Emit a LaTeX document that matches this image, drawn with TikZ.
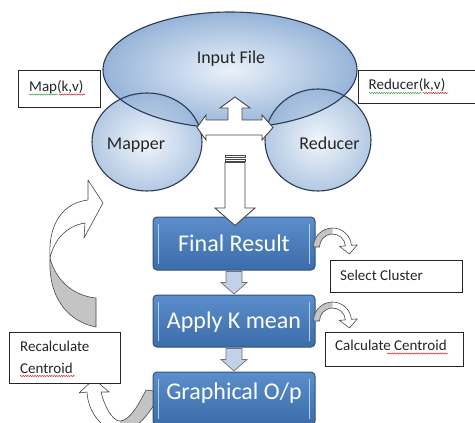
\documentclass[tikz,border=0pt]{standalone}
\usepackage{fontspec}
\setmainfont{Carlito}
\usetikzlibrary{shapes.geometric,calc,decorations.pathmorphing}
\definecolor{bubIn}{RGB}{234,241,250}
\definecolor{bubOut}{RGB}{150,180,216}
\definecolor{bubLine}{RGB}{42,58,84}
\definecolor{boxTop}{RGB}{92,142,204}
\definecolor{boxBot}{RGB}{60,108,170}
\definecolor{boxLine}{RGB}{48,82,128}
\definecolor{boxEdge}{RGB}{175,208,242}
\definecolor{arrLine}{RGB}{70,70,70}
\definecolor{arrGray}{RGB}{196,196,196}
\definecolor{smallArr}{RGB}{192,209,232}
\definecolor{wavRed}{RGB}{220,40,40}
\definecolor{wavGreen}{RGB}{60,170,60}
\begin{document}
\begin{tikzpicture}[x=1pt,y=-1pt,
  bubble/.style={ellipse, inner sep=0pt, inner color=bubIn, outer color=bubOut},
  bubtext/.style={font=\fontsize{18}{18}\selectfont, text=black!85, inner sep=0pt, text height=11.6pt, text depth=0pt},
  flowbox/.style={rectangle, rounded corners=4pt, minimum width=162pt, minimum height=53pt, top color=boxTop, bottom color=boxBot, draw=boxLine, line width=1pt, text=white, font=\fontsize{24}{24}\selectfont, text height=15.5pt, text depth=0pt, inner sep=0pt},
  notebox/.style={draw=black!85, line width=0.8pt, fill=white, inner sep=0pt, anchor=north west},
  notetext/.style={font=\fontsize{15}{15}\selectfont, text=black!85, inner sep=0pt, anchor=base west},
  blockarrow/.style={fill=white, draw=arrLine, line width=0.9pt, line join=miter},
  smallarrow/.style={fill=smallArr, draw=black!55, line width=0.7pt, line join=miter},
  curlline/.style={draw=arrLine, line width=0.6pt, line join=round},
  wavy/.style={decorate, decoration={snake, amplitude=0.6pt, segment length=2.4pt}, line width=0.5pt},
  curl/.pic={
    \fill[white] (180:19) arc[start angle=180,end angle=355,radius=19] -- (355:25) -- (17,7) -- (355:7) -- (355:13) arc[start angle=355,end angle=180,radius=13] -- cycle;
    \fill[arrGray] (180:19) arc[start angle=180,end angle=270,radius=19] -- (270:13) arc[start angle=270,end angle=180,radius=13] -- cycle;
    \draw[curlline] (180:19) arc[start angle=180,end angle=355,radius=19] -- (355:25) -- (17,7) -- (355:7) -- (355:13) arc[start angle=355,end angle=180,radius=13] -- cycle;
  }
]
\useasboundingbox (0,0) rectangle (475,423);
\clip (0,0) rectangle (475,423);

% bubbles
\node[bubble, minimum width=254pt, minimum height=116pt] (input) at (230,70) {};
\node[bubble, fill opacity=0.72, minimum width=110pt, minimum height=98pt] (mapper) at (147,142) {};
\node[bubble, fill opacity=0.72, minimum width=106pt, minimum height=102pt] (reducer) at (318,140) {};
\draw[bubLine, line width=1.1pt] (input.center) ellipse [x radius=127, y radius=58];
\draw[bubLine, line width=1.1pt] (mapper.center) ellipse [x radius=55, y radius=49];
\draw[bubLine, line width=1.1pt] (reducer.center) ellipse [x radius=53, y radius=51];
\node[bubtext] (inputT) at (231,57.5) {Input File};
\node[bubtext] (mapperT) at (136,144) {Mapper};
\node[bubtext] (reducerT) at (329.5,144) {Reducer};

% three-way arrow
\coordinate (hub) at (235,127.5);
\begin{scope}[shift={(hub)}]
\draw[blockarrow] (-38,0) -- (-29,-12.5) -- (-29,-7.5) -- (-7,-7.5) -- (-7,-19.5) -- (-15,-19.5) -- (0,-30.5) -- (15,-19.5) -- (7,-19.5) -- (7,-7.5) -- (27,-7.5) -- (27,-12.5) -- (38,0) -- (27,12.5) -- (27,7.5) -- (-29,7.5) -- (-29,12.5) -- cycle;
\end{scope}

% big left curved arrow
\fill[white] (50,258) .. controls (48,225) and (62,203) .. (88,200) -- (88,180) -- (103,203) -- (84,238) -- (85,223) .. controls (66,226) and (54,240) .. (50,258) -- cycle;
\draw[curlline] (50,258) .. controls (48,225) and (62,203) .. (88,200) -- (88,180) -- (103,203) -- (84,238) -- (85,223) .. controls (66,226) and (54,240) .. (50,258) -- cycle;
\filldraw[fill=arrGray, curlline] (50,258) .. controls (48,300) and (70,322) .. (96,327) -- (96,298) .. controls (75,296) and (56,282) .. (50,258) -- cycle;

% bottom U arrow
\fill[white] (87,392) .. controls (88,412) and (102,431) .. (121,431) .. controls (138,431) and (150,412) .. (162,392) -- (146,390) .. controls (140,402) and (130,421) .. (120,421) .. controls (112,421) and (104,405) .. (101,392) -- (109,392) -- (94,379) -- (79,393) -- cycle;
\fill[arrGray] (120,421) -- (121,431) .. controls (138,431) and (150,412) .. (162,392) -- (146,390) .. controls (140,402) and (130,421) .. (120,421) -- cycle;
\draw[curlline] (87,392) .. controls (88,412) and (102,431) .. (121,431) .. controls (138,431) and (150,412) .. (162,392) -- (146,390) .. controls (140,402) and (130,421) .. (120,421) .. controls (112,421) and (104,405) .. (101,392) -- (109,392) -- (94,379) -- (79,393) -- cycle;

% flow boxes
\node[flowbox] (fr) at (234,243.5) {Final Result};
\node[flowbox, minimum height=52pt] (ak) at (234,321) {Apply K mean};
\node[flowbox, text depth=13.6pt] (gop) at (234,398.5) {Graphical O/p};
\foreach \b in {fr,ak,gop}{
  \draw[boxEdge, line width=1.6pt] ($(\b.north west)+(6,7)$) -- ($(\b.south west)+(6,-7)$);
  \draw[boxEdge, line width=1.6pt] ($(\b.north east)+(-6,7)$) -- ($(\b.south east)+(-6,-7)$);
}

% big down arrow into Final Result
\begin{scope}[shift={(fr.north)}]
\draw[blockarrow] (-9,-61.5) rectangle (11,-59);
\draw[blockarrow] (-9,-57.5) rectangle (11,-55.5);
\draw[blockarrow] (-9,-54) -- (-9,-8.5) -- (-19,-8.5) -- (1,9) -- (21,-8.5) -- (11,-8.5) -- (11,-54) -- cycle;
\end{scope}

% small down arrows
\foreach \a in {fr,ak}{
\begin{scope}[shift={(\a.south)}]
\draw[smallarrow] (-8,1) -- (8,1) -- (8,12) -- (13,12) -- (0,23.5) -- (-13,12) -- (-8,12) -- cycle;
\end{scope}
}

% small curved arrows
\pic at ($(fr.east)+(17,3.5)$) {curl};
\pic at ($(ak.east)+(17,0)$) {curl};

% notes
\node[notebox, minimum width=82pt, minimum height=37pt] (mapbox) at (18,70) {};
\node[notetext] (maptext) at (29,91.5) {Map(k,v)};
\node[notebox, minimum width=125pt, minimum height=33pt] (redbox) at (358,70) {};
\node[notetext] (redtext) at (368.5,89) {Reducer(k,v)};
\node[notebox, minimum width=132pt, minimum height=32pt] (selbox) at (330,260) {};
\node[notetext] (seltext) at (340,280) {Select Cluster};
\node[notebox, minimum width=138pt, minimum height=34pt] (calbox) at (325,332) {};
\node[notetext] (caltext) at (335,350.5) {Calculate Centroid};
\node[notebox, minimum width=111pt, minimum height=51pt] (recbox) at (9,332) {};
\node[notetext] (rectext1) at (20,351) {Recalculate};
\node[notetext] (rectext2) at (20,373) {Centroid};

% spell-check squiggles
\draw[wavy, wavGreen] (29,94.5) -- (58,94.5);
\draw[wavy, wavRed] (59,94.5) -- (85,94.5);
\draw[wavy, wavGreen] (369,93) -- (422,93);
\draw[wavy, wavRed] (423,93) -- (448,93);
\draw[wavy, wavRed] (387,353.5) -- (448,353.5);
\draw[wavy, wavRed] (20,376) -- (75,376);
\end{tikzpicture}
\end{document}
